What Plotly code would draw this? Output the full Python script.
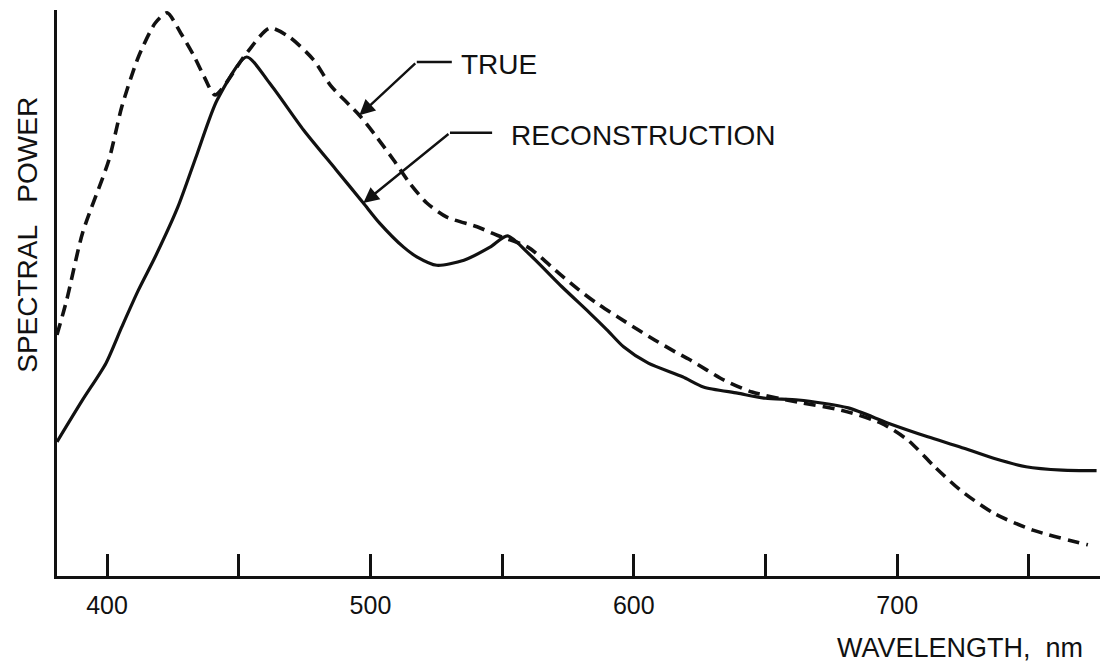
import plotly.graph_objects as go

# Wavelength samples (nm) and relative spectral power for each curve
true_nm = [381.0, 384.7, 390.7, 400.7, 405.6, 411.9, 418.3, 422.8, 428.0, 433.2,
           436.9, 441.0, 453.0, 461.7, 469.3, 478.4, 485.0, 495.8, 502.3, 508.8,
           514.9, 521.4, 529.0, 540.5, 548.1, 559.8, 571.5, 579.3, 585.9, 593.8,
           601.6, 607.9, 615.7, 621.3, 634.3, 644.9, 662.5, 678.8, 693.9, 704.1,
           714.2, 723.9, 736.6, 751.5, 772.4]
true_power = [42.6, 48.8, 60.6, 73.5, 82.9, 91.7, 97.7, 99.5, 95.9, 91.7,
              88.2, 85.0, 92.4, 96.8, 95.2, 91.2, 86.6, 81.4, 77.6, 73.5,
              69.4, 65.9, 63.4, 61.7, 60.2, 58.1, 53.5, 50.5, 48.2, 45.8,
              43.5, 41.7, 39.6, 38.2, 34.6, 32.5, 30.7, 29.3, 27.0, 24.0,
              19.3, 15.2, 11.1, 8.1, 5.5]

recon_nm = [381.0, 390.7, 399.6, 405.6, 411.9, 418.3, 426.9, 434.3, 441.8, 453.0,
            461.7, 474.6, 487.1, 497.3, 503.4, 512.6, 517.6, 525.2, 535.5, 545.4,
            552.0, 559.8, 572.7, 583.2, 589.8, 596.1, 605.5, 618.5, 626.4, 639.4,
            650.0, 662.5, 681.4, 696.6, 711.6, 723.9, 736.6, 748.9, 762.7, 775.7]
recon_power = [23.7, 31.1, 37.6, 44.0, 50.5, 56.4, 65.2, 74.7, 84.1, 91.7,
               87.1, 78.8, 71.7, 65.9, 62.4, 58.1, 56.4, 54.9, 55.8, 58.1,
               60.1, 57.1, 51.1, 46.5, 43.5, 40.5, 37.6, 35.2, 33.4, 32.3,
               31.4, 31.1, 29.7, 27.0, 24.6, 22.8, 20.8, 19.3, 18.7, 18.6]

tick_vals = [400, 450, 500, 550, 600, 650, 700, 750]
tick_text = ["400", "", "500", "", "600", "", "700", ""]

INK = "#111111"
FONT = "Liberation Sans"

fig = go.Figure()
fig.add_trace(go.Scatter(
    x=true_nm, y=true_power, mode="lines", name="TRUE",
    line=dict(color=INK, width=3.6, dash="12px,7px", shape="spline", smoothing=0.7),
))
fig.add_trace(go.Scatter(
    x=recon_nm, y=recon_power, mode="lines", name="RECONSTRUCTION",
    line=dict(color=INK, width=3.2, shape="spline", smoothing=0.7),
))

# Leader lines: horizontal stub from the label, then a diagonal arrow to the curve
true_tip = (true_nm[17], true_power[17])
recon_tip = (recon_nm[13], recon_power[13])
leaders = [
    # (tip, elbow, stub end, label x, label y, label)
    (true_tip, (517.6, 90.8), (530.9, 90.8), 533.5, 90.3, "TRUE"),
    (recon_tip, (530.2, 78.3), (546.2, 78.3), 552.5, 77.9, "RECONSTRUCTION"),
]
for tip, elbow, stub, lx, ly, label in leaders:
    fig.add_shape(type="line", xref="x", yref="y",
                  x0=elbow[0], y0=elbow[1], x1=stub[0], y1=stub[1],
                  line=dict(color=INK, width=2.4))
    fig.add_annotation(x=tip[0], y=tip[1], ax=elbow[0], ay=elbow[1],
                       xref="x", yref="y", axref="x", ayref="y",
                       text="", showarrow=True, arrowhead=2, arrowsize=1.3,
                       arrowwidth=2.4, arrowcolor=INK)
    fig.add_annotation(x=lx, y=ly, xref="x", yref="y", text=label,
                       showarrow=False, xanchor="left", yanchor="middle",
                       font=dict(family=FONT, size=28, color=INK))

# Axis titles
fig.add_annotation(x=-0.028, y=0.6025, xref="paper", yref="paper",
                   text="SPECTRAL   POWER", textangle=-90, showarrow=False,
                   xanchor="center", yanchor="middle",
                   font=dict(family=FONT, size=28, color=INK))
fig.add_annotation(x=0.986, y=-0.128, xref="paper", yref="paper",
                   text="WAVELENGTH,  nm", showarrow=False,
                   xanchor="right", yanchor="middle",
                   font=dict(family=FONT, size=27, color=INK))

fig.update_layout(
    width=1103, height=668,
    margin=dict(l=57, r=3, t=10, b=92),
    paper_bgcolor="white", plot_bgcolor="white",
    showlegend=False,
    xaxis=dict(range=[381, 777], tickmode="array", tickvals=tick_vals,
               ticktext=tick_text, ticks="inside", ticklen=22, tickwidth=2.6,
               tickcolor=INK, showline=True, linecolor=INK, linewidth=3,
               showgrid=False, zeroline=False, ticklabelstandoff=5,
               tickfont=dict(family=FONT, size=25, color=INK)),
    yaxis=dict(range=[0, 100], showticklabels=False, ticks="",
               showline=True, linecolor=INK, linewidth=3,
               showgrid=False, zeroline=False),
)

fig.write_html("out.html")
